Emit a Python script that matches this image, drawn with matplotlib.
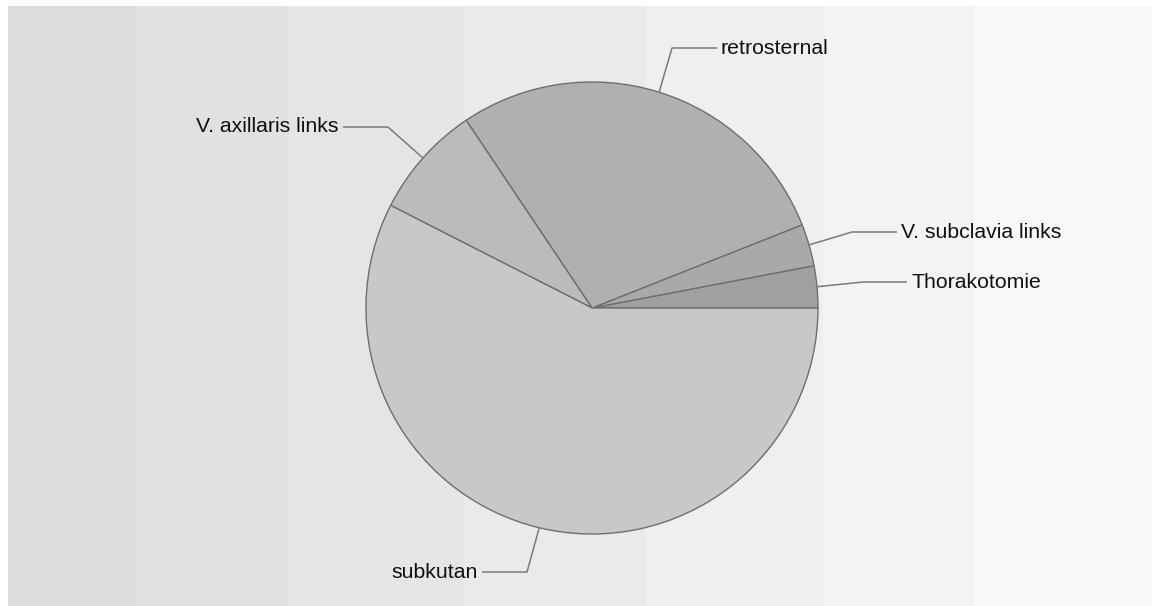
import matplotlib
matplotlib.use("Agg")
import matplotlib.pyplot as plt
from matplotlib.patches import Rectangle
import numpy as np

# slices, counter-clockwise starting at 3 o'clock
labels = ["Thorakotomie", "V. subclavia links", "retrosternal",
          "V. axillaris links", "subkutan"]
values = [3.0, 3.0, 28.4, 8.1, 57.5]
slice_colors = ["#a0a0a0", "#a9a9a9", "#b0b0b0", "#bbbbbb", "#c8c8c8"]

# background stripes (x edges in pixels) and their greys
stripe_edges = [8, 135, 287, 463, 646, 823, 974, 1152]
stripe_colors = ["#dcdcdc", "#e1e1e1", "#e5e5e5", "#eaeaea",
                 "#efefef", "#f3f3f3", "#f8f8f8"]

W, H = 1152, 606
cx, cy, r = 592, 308, 226  # image pixel coords (y down)

# label layout: elbow point, end of leader, side (image coords)
label_layout = [
    ((863, 282), (907, 282), "right"),
    ((852, 232), (897, 232), "right"),
    ((672, 48), (717, 48), "right"),
    ((388, 127), (343, 127), "left"),
    ((527, 572), (482, 572), "left"),
]

plt.rcParams["font.family"] = ["Liberation Sans", "DejaVu Sans"]

fig = plt.figure(figsize=(W / 100, H / 100), dpi=100)
ax = fig.add_axes([0, 0, 1, 1])

for i in range(len(stripe_colors)):
    ax.add_patch(Rectangle((stripe_edges[i], 0), stripe_edges[i + 1] - stripe_edges[i],
                           H - 6, facecolor=stripe_colors[i], edgecolor="none", zorder=0))

wedges, _ = ax.pie(values, colors=slice_colors, startangle=0, counterclock=True,
                   center=(cx, H - cy), radius=r,
                   wedgeprops=dict(edgecolor="#6e6e6e", linewidth=1.0, zorder=2))

for w, lab, (elbow, end, side) in zip(wedges, labels, label_layout):
    mid = np.deg2rad((w.theta1 + w.theta2) / 2)
    ex = cx + r * np.cos(mid)
    ey = (H - cy) + r * np.sin(mid)
    ax.plot([ex, elbow[0], end[0]], [ey, H - elbow[1], H - end[1]],
            color="#7a7a7a", lw=1.1, zorder=3, solid_capstyle="butt")
    if side == "right":
        ax.text(end[0] + 4, H - end[1], lab, ha="left", va="center",
                fontsize=15.3, color="#111111", zorder=4)
    else:
        ax.text(end[0] - 4, H - end[1], lab, ha="right", va="center",
                fontsize=15.3, color="#111111", zorder=4)

ax.set_xlim(0, W)
ax.set_ylim(0, H)
ax.set_aspect("auto")
ax.axis("off")

fig.savefig("out.png", dpi=100, facecolor="white")
